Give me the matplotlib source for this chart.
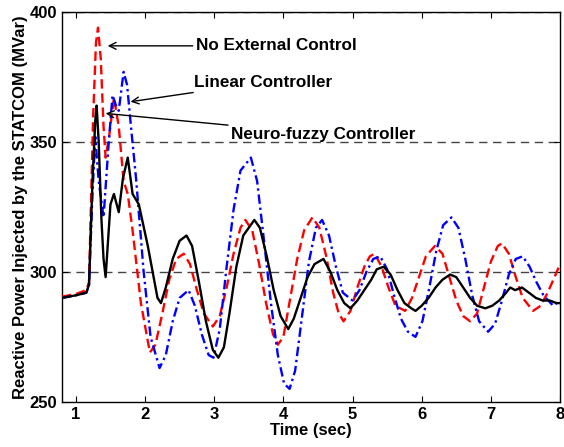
import matplotlib.pyplot as plt

plt.rcParams["font.family"] = ["Liberation Sans", "DejaVu Sans"]
plt.rcParams["font.weight"] = "bold"

# --- data ---
# No External Control (red dashed)
t_red = [0.8, 1.0, 1.15, 1.19, 1.25, 1.29, 1.32, 1.36, 1.40, 1.43, 1.48, 1.55, 1.62,
         1.69, 1.75, 1.82, 1.94, 2.07, 2.15, 2.25, 2.35, 2.45, 2.56, 2.65, 2.75, 2.85,
         2.98, 3.08, 3.18, 3.28, 3.38, 3.45, 3.55, 3.65, 3.75, 3.85, 3.92, 4.0, 4.1,
         4.2, 4.3, 4.42, 4.52, 4.62, 4.72, 4.80, 4.87, 4.97, 5.07, 5.17, 5.25, 5.32,
         5.42, 5.52, 5.62, 5.76, 5.86, 5.96, 6.06, 6.19, 6.30, 6.40, 6.50, 6.60, 6.70,
         6.80, 6.90, 7.00, 7.10, 7.16, 7.26, 7.36, 7.46, 7.61, 7.72, 7.82, 7.92, 8.0]
v_red = [290.5, 291.5, 293, 296, 360, 388, 394, 382, 356, 344, 352, 367, 356,
         335, 330, 316, 288, 269, 272, 284, 297, 305, 307, 303, 293, 284,
         279, 283, 294, 307, 317, 320, 316, 303, 288, 276, 272, 275, 290,
         305, 316, 321, 317, 306, 292, 284, 281, 285, 294, 302, 306, 307,
         302, 294, 287, 285, 290, 298, 306, 310, 307, 298, 289, 283, 281,
         284, 294, 304, 310, 311, 307, 298, 290, 285, 287, 292, 298, 303]

# Linear Controller (blue dash-dot)
t_blue = [0.8, 1.0, 1.15, 1.19, 1.24, 1.28, 1.33, 1.40, 1.47, 1.53, 1.58, 1.62, 1.69,
          1.74, 1.80, 1.87, 1.98, 2.08, 2.21, 2.30, 2.40, 2.50, 2.63, 2.72, 2.82,
          2.92, 2.99, 3.08, 3.18, 3.28, 3.38, 3.53, 3.62, 3.72, 3.82, 3.92, 4.01,
          4.09, 4.17, 4.27, 4.37, 4.47, 4.56, 4.66, 4.76, 4.86, 5.0, 5.10, 5.20,
          5.30, 5.40, 5.50, 5.60, 5.70, 5.80, 5.91, 6.01, 6.11, 6.21, 6.31, 6.43,
          6.53, 6.63, 6.73, 6.83, 6.96, 7.06, 7.16, 7.26, 7.36, 7.46, 7.56, 7.66,
          7.76, 7.90, 8.0]
v_blue = [290, 291, 292, 295, 330, 352, 335, 321, 348, 368, 364, 362, 377,
          372, 355, 336, 300, 275, 263, 268, 281, 290, 293, 287, 276,
          268, 267, 278, 302, 324, 339, 344, 335, 312, 288, 268, 257,
          255, 262, 283, 304, 317, 320, 314, 302, 292, 289, 293, 300,
          305, 306, 301, 291, 282, 277, 275, 281, 294, 308, 318, 321,
          317, 305, 291, 281, 277, 280, 289, 299, 305, 306, 302, 296,
          291, 287, 289]

# Neuro-fuzzy Controller (black solid)
t_blk = [0.8, 1.0, 1.15, 1.19, 1.24, 1.28, 1.30, 1.33, 1.37, 1.40, 1.43, 1.46, 1.50,
         1.55, 1.62, 1.68, 1.75, 1.82, 1.91, 2.04, 2.18, 2.23, 2.30, 2.40, 2.50,
         2.60, 2.68, 2.78, 2.88, 2.98, 3.06, 3.14, 3.22, 3.32, 3.42, 3.58, 3.66,
         3.76, 3.86, 3.96, 4.07, 4.15, 4.25, 4.35, 4.45, 4.58, 4.68, 4.78, 4.88,
         4.97, 5.07, 5.17, 5.27, 5.35, 5.45, 5.55, 5.65, 5.75, 5.85, 5.91, 6.0,
         6.1, 6.2, 6.3, 6.41, 6.5, 6.6, 6.7, 6.8, 6.92, 7.02, 7.12, 7.22, 7.28,
         7.35, 7.45, 7.55, 7.65, 7.75, 7.85, 7.95, 8.0]
v_blk = [290, 291, 292, 295, 335, 358, 364, 350, 320, 305, 298, 310, 326,
         330, 323, 336, 344, 330, 326, 310, 290, 288, 294, 305, 312,
         314, 310, 296, 281, 270, 267, 271, 284, 302, 314, 320, 317,
         306, 293, 283, 278, 282, 290, 298, 303, 305, 300, 293, 288,
         286, 289, 293, 297, 301, 302, 299, 293, 288, 286, 285, 287,
         290, 294, 297, 299, 298, 294, 290, 287, 286, 287, 289, 292, 294,
         293, 294, 292, 290, 289, 289, 288, 288]

x_ticks = [1, 2, 3, 4, 5, 6, 7, 8]
y_ticks = [250, 300, 350, 400]

fig = plt.figure(figsize=(5.64, 4.47), dpi=100)
ax = fig.add_axes([0.110, 0.101, 0.883, 0.872])

# horizontal dashed grid lines
for yv in [300, 350, 400]:
    ax.axhline(yv, color="#444444", linestyle=(0, (6, 4)), linewidth=1.0, zorder=1)

ax.plot(t_red, v_red, color="#ff0000", linestyle=(0, (4, 2)), linewidth=1.7, zorder=3)
ax.plot(t_blue, v_blue, color="#0000ff", linestyle=(0, (4, 1.6, 1, 1.6)), linewidth=1.7, zorder=3)
ax.plot(t_blk, v_blk, color="black", linestyle="-", linewidth=1.7, zorder=4)

ax.set_xlim(0.8, 8)
ax.set_ylim(250, 400)
ax.set_xticks(x_ticks)
ax.set_yticks(y_ticks)
ax.tick_params(direction="in", top=True, right=True, labelsize=12, length=4)
for lab in ax.get_xticklabels() + ax.get_yticklabels():
    lab.set_fontweight("bold")

ax.set_xlabel("Time (sec)", fontsize=12, fontweight="bold", labelpad=1)
ax.set_ylabel("Reactive Power Injected by the STATCOM (MVar)", fontsize=12,
              fontweight="bold", labelpad=1)

arrow = dict(arrowstyle="->", color="black", linewidth=1.0, shrinkA=0, shrinkB=0)
ax.annotate("No External Control", xy=(1.46, 387), xytext=(2.73, 387),
            fontsize=12.3, fontweight="bold", va="center", ha="left", arrowprops=arrow)
ax.annotate("Linear Controller", xy=(1.79, 365.5), xytext=(2.71, 373),
            fontsize=12.3, fontweight="bold", va="center", ha="left", arrowprops=arrow)
ax.annotate("Neuro-fuzzy Controller", xy=(1.43, 361), xytext=(3.24, 353),
            fontsize=12.3, fontweight="bold", va="center", ha="left", arrowprops=arrow)

for s in ax.spines.values():
    s.set_linewidth(1.0)

plt.savefig("out.png", dpi=100)
